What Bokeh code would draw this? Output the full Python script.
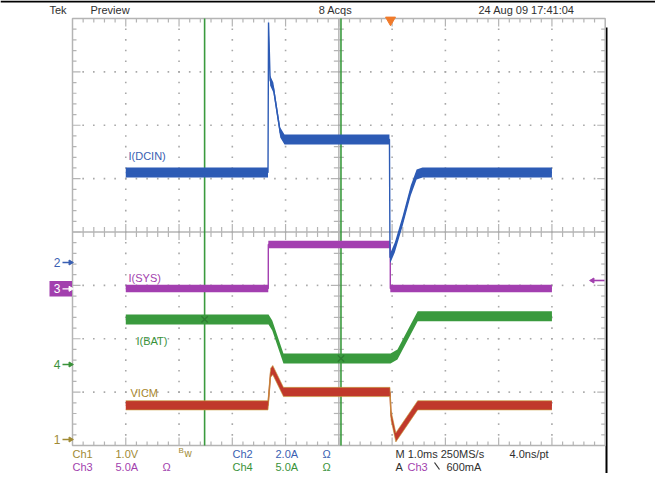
import numpy as np
from bokeh.plotting import figure
from bokeh.models import Range1d
from bokeh.core.properties import value
from bokeh.embed import file_html
from bokeh.resources import INLINE

# ---------------- data (time in ms, amplitude in channel units) ----------------
# Ch2  I(DCIN)  [A]
t_dcin = [1.00, 3.67, 3.68, 3.71, 3.77, 3.90, 3.98, 5.95, 5.96, 5.97, 6.05, 6.20, 6.35, 6.46, 6.57, 9.00]
i_dcin = [3.37, 3.37, 8.99, 6.82, 6.56, 4.87, 4.61, 4.61, 0.19, 0.19, 0.56, 1.57, 2.70, 3.30, 3.37, 3.37]
# Ch3  I(SYS)  [A]
t_sys = [1.00, 3.675, 3.676, 5.965, 5.966, 9.00]
i_sys = [0.00, 0.00, 4.12, 4.12, 0.00, 0.00]
# Ch4  I(BAT)  [A]
t_bat = [1.00, 3.68, 3.75, 3.96, 5.97, 6.10, 6.48, 9.00]
i_bat = [4.22, 4.22, 3.65, 0.56, 0.56, 0.94, 4.52, 4.52]
# Ch1  VICM  [V]
t_vicm = [1.00, 3.67, 3.72, 3.76, 3.96, 5.96, 5.98, 6.07, 6.48, 9.00]
v_vicm = [0.64, 0.64, 1.25, 1.30, 0.89, 0.89, 0.45, 0.04, 0.64, 0.64]

cursor_t = [2.48, 5.04]
trigger_t = 5.97

# channel: volts/div, ground offset (div), colour
ch_scale = {"1": 1.0, "2": 2.0, "3": 5.0, "4": 5.0}
ch_ground = {"1": -3.887, "2": -0.571, "3": -1.059, "4": -2.482}
ch_color = {"1": "#a08a34", "2": "#3a5fb2", "3": "#a23fae", "4": "#3a923a"}
trace_color = {"1": "#c0392b", "2": "#2d5bb5", "3": "#a33fb0", "4": "#3a9a3e"}

# ---------------- page geometry helpers ----------------
SX, SY = 53.27, 53.375       # px per division
GX0, GYC = 80.0, 239.5       # graticule left edge, centre line (page px)

def T(xp):
    return (xp - GX0) / SX

def D(yp):
    return (GYC - yp) / SY

FONT = value("Liberation Sans")

p = figure(width=655, height=473,
           x_range=Range1d(T(8), T(663)), y_range=Range1d(D(481), D(8)),
           x_axis_type=None, y_axis_type=None, toolbar_location=None,
           output_backend="svg", min_border=0, outline_line_color=None,
           background_fill_color="white", border_fill_color="white")

# ---------------- page frame lines ----------------
p.segment(x0=[T(8)], y0=[D(9)], x1=[T(663)], y1=[D(9)], line_color="black", line_width=2)
p.segment(x0=[T(614)], y0=[D(35)], x1=[T(614)], y1=[D(481)], line_color="black", line_width=2)

# ---------------- graticule ----------------
GRAT = "#b4b4b4"
p.quad(left=[0], right=[10], bottom=[-4], top=[4], fill_color=None,
       line_color=GRAT, line_width=1.5)

xs_minor = np.round(np.arange(0.2, 10.0, 0.2), 3)
ys_minor = np.round(np.arange(-3.8, 4.0, 0.2), 3)

def is_major(v):
    return abs(v - round(v)) < 1e-6

x0s, y0s, x1s, y1s = [], [], [], []
for x in xs_minor:
    L = (8.0 if is_major(x) else 4.0) / SY
    x0s += [x, x]; y0s += [4, -4]; x1s += [x, x]; y1s += [4 - L, -4 + L]
    Lc = (8.0 if is_major(x) else 5.0) / SY
    x0s.append(x); y0s.append(-Lc); x1s.append(x); y1s.append(Lc)
for y in ys_minor:
    L = (8.0 if is_major(y) else 4.0) / SX
    x0s += [0, 10]; y0s += [y, y]; x1s += [L, 10 - L]; y1s += [y, y]
    Lc = (8.0 if is_major(y) else 5.0) / SX
    x0s.append(5 - Lc); y0s.append(y); x1s.append(5 + Lc); y1s.append(y)
p.segment(x0=x0s, y0=y0s, x1=x1s, y1=y1s, line_color=GRAT, line_width=1.2)
# centre axes
p.segment(x0=[0, 5], y0=[0, -4], x1=[10, 5], y1=[0, 4], line_color=GRAT, line_width=1.5)

# dotted grid
dx, dy = [], []
for gx in range(1, 10):
    if gx == 5:
        continue
    for y in ys_minor:
        dx.append(gx); dy.append(y)
for gy in range(-3, 4):
    if gy == 0:
        continue
    for x in xs_minor:
        dx.append(x); dy.append(gy)
p.scatter(dx, dy, marker="square", size=1.6, fill_color="#a8a8a8", line_color=None)

# ---------------- cursors ----------------
for ct in cursor_t:
    p.segment(x0=[ct], y0=[-4], x1=[ct], y1=[4], line_color="#3a9a3e", line_width=1.6)

# ---------------- traces ----------------
def div(ch, vals):
    return ch_ground[ch] + np.asarray(vals, dtype=float) / ch_scale[ch]

def trace(ch, t, vals, half_px, edge=None):
    y = div(ch, vals)
    h = half_px / SY
    c = trace_color[ch]
    p.varea(x=t, y1=y - h, y2=y + h, fill_color=c)
    p.line(t, y, line_color=c, line_width=1.4)
    if edge:
        p.line(t, y + h, line_color=edge, line_width=0.8, line_alpha=0.8)
        p.line(t, y - h, line_color=edge, line_width=0.8, line_alpha=0.8)

trace("3", t_sys, i_sys, 3.8)
trace("4", t_bat, i_bat, 5.0)
trace("1", t_vicm, v_vicm, 4.6, edge="#c8a040")
trace("2", t_dcin, i_dcin, 5.0)

# cursor crossings on Ch4
cy = div("4", np.interp(cursor_t, t_bat, i_bat))
p.scatter(cursor_t, cy, marker="x", size=9, line_color="#2e7d32", line_width=1.4)

# trigger position marker
p.scatter([trigger_t], [D(27.5)], marker="inverted_triangle", size=10,
          fill_color="#f07a2a", line_color="#f07a2a")

# ---------------- text helper ----------------
def txt(xp, yp, s, color, size=11, align="left", font=FONT):
    p.text(x=[T(xp)], y=[D(yp)], text=[s], text_color=color, text_font=font,
           text_font_size=f"{size}px", text_align=align, text_baseline="middle")

# trace labels
txt(136, 163, "I(DCIN)", ch_color["2"])
txt(136, 285, "I(SYS)", ch_color["3"])
txt(144, 348, "I(BAT)", ch_color["4"])
txt(138, 400, "VICM", "#a8862a")

# ---------------- channel ground markers ----------------
def arrow(tail_x, tip_x, yp, color, width=1.3):
    p.segment(x0=[T(tail_x)], y0=[D(yp)], x1=[T(tip_x)], y1=[D(yp)],
              line_color=color, line_width=width)
    ang = -np.pi / 2 if tip_x > tail_x else np.pi / 2
    p.scatter([T(tip_x)], [D(yp)], marker="triangle", size=5, angle=ang,
              fill_color=color, line_color=color)

for ch, yp in [("2", 270), ("4", 372), ("1", 447)]:
    txt(68, yp, ch, ch_color[ch], size=12, align="right")
    arrow(70, 78, yp, ch_color[ch])
# ch3 highlighted marker
p.quad(left=[T(57)], right=[T(79.5)], bottom=[D(304)], top=[D(288.5)],
       fill_color="#a23fae", line_color=None)
txt(68, 296.3, "3", "white", size=12, align="right")
arrow(70, 78, 296.3, "white")
# trigger level marker right side
arrow(612, 600, 288, "#a23fae", width=1.6)

# ---------------- header ----------------
HDR = "#303030"
txt(57, 17, "Tek", HDR)
txt(98, 17, "Preview", HDR)
txt(343, 17, "8 Acqs", HDR, align="center")
txt(486, 17, "24 Aug 09 17:41:04", HDR)

# ---------------- footer ----------------
R1, R2 = 461, 474
FS = 11
txt(80, R1, "Ch1", ch_color["1"], FS)
txt(123, R1, "1.0V", ch_color["1"], FS)
txt(186, R1 - 3, "B", ch_color["1"], 8)
txt(192, R1, "w", ch_color["1"], 10)
txt(240, R1, "Ch2", ch_color["2"], FS)
txt(283, R1, "2.0A", ch_color["2"], FS)
txt(330, R1, "Ω", ch_color["2"], FS)
txt(403, R1, "M 1.0ms 250MS/s", HDR, FS)
txt(517, R1, "4.0ns/pt", HDR, FS)

txt(80, R2, "Ch3", ch_color["3"], FS)
txt(123, R2, "5.0A", ch_color["3"], FS)
txt(170, R2, "Ω", ch_color["3"], FS)
txt(240, R2, "Ch4", ch_color["4"], FS)
txt(283, R2, "5.0A", ch_color["4"], FS)
txt(330, R2, "Ω", ch_color["4"], FS)
txt(403, R2, "A", HDR, FS)
txt(415, R2, "Ch3", ch_color["3"], FS)
p.segment(x0=[T(442)], y0=[D(470)], x1=[T(447)], y1=[D(477)], line_color=HDR, line_width=1.2)
txt(454, R2, "600mA", HDR, FS)

open("out.html", "w").write(file_html(p, INLINE))
